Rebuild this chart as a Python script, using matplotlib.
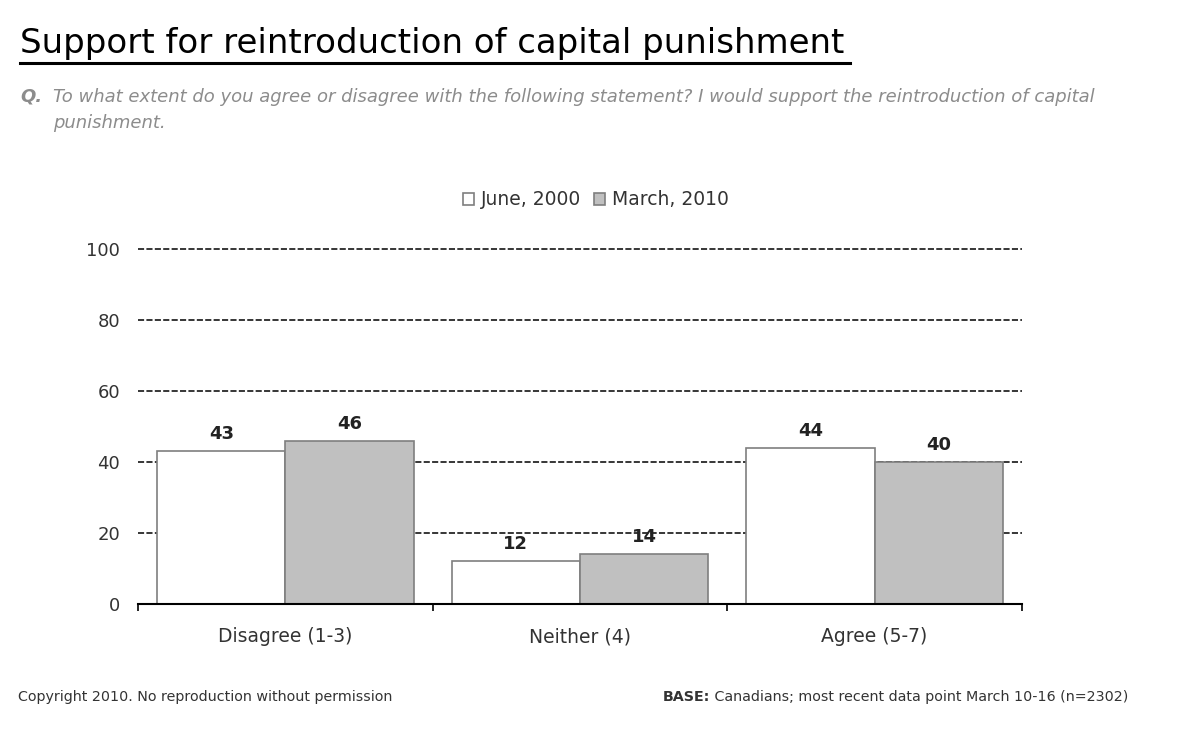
"""Support for reintroduction of capital punishment: grouped bar chart."""

import matplotlib
matplotlib.use("Agg")
import matplotlib.pyplot as plt
import numpy as np

categories = ["Disagree (1-3)", "Neither (4)", "Agree (5-7)"]
series_names = ["June, 2000", "March, 2010"]
june_2000 = [43, 12, 44]
march_2010 = [46, 14, 40]
y_ticks = [0, 20, 40, 60, 80, 100]

plt.rcParams["font.family"] = ["DejaVu Sans"]

fig = plt.figure(figsize=(11.8, 7.29), dpi=100)
ax = fig.add_axes([0.117, 0.1715, 0.749, 0.4865])

x = np.arange(len(categories))
width = 0.435
edge = "#7f7f7f"
bars1 = ax.bar(x - width / 2, june_2000, width=width, color="white",
               edgecolor=edge, linewidth=1.2, zorder=3, label=series_names[0])
bars2 = ax.bar(x + width / 2, march_2010, width=width, color="#c0c0c0",
               edgecolor=edge, linewidth=1.2, zorder=3, label=series_names[1])

for bars in (bars1, bars2):
    for b in bars:
        h = b.get_height()
        ax.text(b.get_x() + b.get_width() / 2, h + 2.3, f"{h:g}",
                ha="center", va="bottom", fontsize=13, fontweight="bold",
                color="#222222", zorder=4)

ax.set_xlim(-0.5, len(categories) - 0.5)
ax.set_ylim(0, 100)
ax.set_yticks(y_ticks)
ax.set_yticklabels([str(t) for t in y_ticks], fontsize=13, color="#333333")
ax.tick_params(axis="y", length=0, pad=13)

# category boundary ticks on the x axis
ax.set_xticks(np.arange(len(categories) + 1) - 0.5)
ax.set_xticklabels([])
ax.tick_params(axis="x", direction="out", length=5, width=1.2, color="black")
for i, c in enumerate(categories):
    ax.text(i, -6.5, c, ha="center", va="top", fontsize=13.5, color="#333333")

for t in y_ticks[1:]:
    ax.axhline(t, color="black", linestyle=(0, (4, 1.5)), linewidth=1.1,
               zorder=1, clip_on=False)

for s in ("top", "right", "left"):
    ax.spines[s].set_visible(False)
ax.spines["bottom"].set_linewidth(1.5)
ax.spines["bottom"].set_zorder(5)

leg = fig.legend(handles=[bars1, bars2], labels=series_names, loc="center",
                 bbox_to_anchor=(0.505, 0.726), ncol=2, frameon=False,
                 fontsize=13.5, handlelength=0.6, handleheight=0.6,
                 handletextpad=0.35, columnspacing=0.7)
for txt in leg.get_texts():
    txt.set_color("#333333")

# title with underline
fig.text(20 / 1180, 1 - 44 / 729, "Support for reintroduction of capital punishment",
         ha="left", va="center", fontsize=24.5, color="black")
fig.add_artist(plt.Line2D([20 / 1180, 850 / 1180], [1 - 63 / 729, 1 - 63 / 729],
                          color="black", linewidth=2.2))

# question text
q_color = "#8c8c8c"
fig.text(20 / 1180, 1 - 97 / 729, "Q.", ha="left", va="center", fontsize=13,
         fontweight="bold", style="italic", color=q_color)
fig.text(53 / 1180, 1 - 97 / 729,
         "To what extent do you agree or disagree with the following statement? "
         "I would support the reintroduction of capital",
         ha="left", va="center", fontsize=13, style="italic", color=q_color)
fig.text(53 / 1180, 1 - 123 / 729, "punishment.", ha="left", va="center",
         fontsize=13, style="italic", color=q_color)

# footer
fig.text(18 / 1180, 1 - 697 / 729,
         "Copyright 2010. No reproduction without permission",
         ha="left", va="center", fontsize=10.3, color="#333333")
base = fig.text(663 / 1180, 1 - 697 / 729, "BASE:", ha="left", va="center",
                fontsize=10.3, fontweight="bold", color="#333333")
fig.add_artist(matplotlib.text.Annotation(
    " Canadians; most recent data point March 10-16 (n=2302)",
    xy=(1, 0.5), xycoords=base, xytext=(0, 0), textcoords="offset points",
    ha="left", va="center", fontsize=10.3, color="#333333"))

fig.savefig("out.png", dpi=100)
